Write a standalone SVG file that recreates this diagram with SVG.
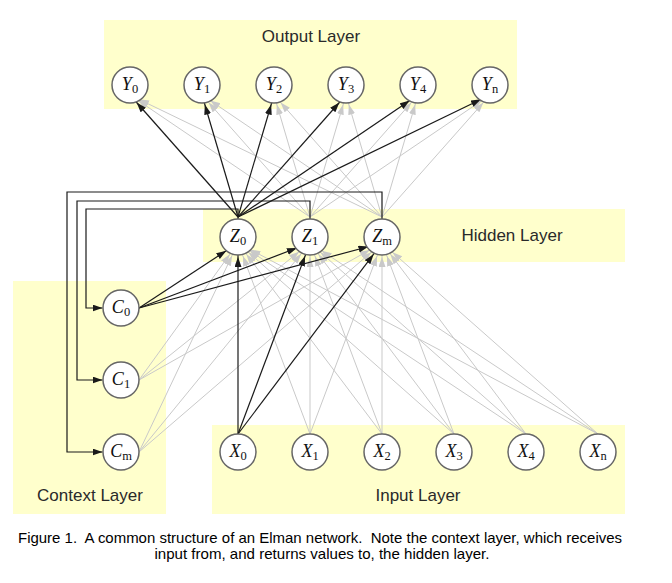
<svg xmlns="http://www.w3.org/2000/svg" width="672" height="583" viewBox="0 0 672 583">
<style>
.layer{fill:#ffffcc;stroke:none}
.lbl{font-family:"Liberation Sans",Arial,sans-serif;font-size:17px;fill:#2a2a2a;text-anchor:middle}
.cap{font-family:"Liberation Sans",Arial,sans-serif;font-size:14.5px;fill:#000;text-anchor:middle;white-space:pre}
.g{stroke:#c9c9c9;stroke-width:1;fill:none}
.b{stroke:#1a1a1a;stroke-width:1.2;fill:none}
.gy{marker-end:url(#gY)}
.by{marker-end:url(#bY)}
.gz{marker-end:url(#gZ)}
.bz{marker-end:url(#bZ)}
.fb{marker-end:url(#bF)}
.node circle{fill:#fff;stroke:#666;stroke-width:1.5}
.node text{font-family:"Liberation Serif","Times New Roman",serif;font-size:18px;fill:#111;text-anchor:middle}
.node .v{font-style:italic}
.node .s{font-size:12.5px}
</style>
<defs>
<marker id="gY" markerUnits="userSpaceOnUse" markerWidth="30" markerHeight="8" refX="20" refY="3.5" orient="auto"><path d="M0,0 L10,3.5 L0,7 z" fill="#c9c9c9"/></marker>
<marker id="bY" markerUnits="userSpaceOnUse" markerWidth="30" markerHeight="8" refX="20" refY="3.5" orient="auto"><path d="M0,0 L10,3.5 L0,7 z" fill="#1a1a1a"/></marker>
<marker id="gZ" markerUnits="userSpaceOnUse" markerWidth="30" markerHeight="8" refX="24" refY="3.5" orient="auto"><path d="M0,0 L10,3.5 L0,7 z" fill="#c9c9c9"/></marker>
<marker id="bZ" markerUnits="userSpaceOnUse" markerWidth="30" markerHeight="8" refX="24" refY="3.5" orient="auto"><path d="M0,0 L10,3.5 L0,7 z" fill="#1a1a1a"/></marker>
<marker id="bF" markerUnits="userSpaceOnUse" markerWidth="12" markerHeight="8" refX="10" refY="3.5" orient="auto"><path d="M0,0 L10,3.5 L0,7 z" fill="#1a1a1a"/></marker>
</defs>

<g id="layers">
<rect class="layer" x="104" y="20" width="413" height="89"/>
<rect class="layer" x="203" y="209" width="422" height="53"/>
<rect class="layer" x="13" y="281" width="153" height="233"/>
<rect class="layer" x="212" y="425" width="413" height="89"/>
<text class="lbl" x="311" y="42">Output Layer</text>
<text class="lbl" x="512" y="241">Hidden Layer</text>
<text class="lbl" x="90" y="501">Context Layer</text>
<text class="lbl" x="418" y="501">Input Layer</text>
</g>

<g id="connectors">
<!-- gray hidden -> output -->
<line class="g gy" x1="310" y1="217" x2="130" y2="95"/>
<line class="g gy" x1="310" y1="217" x2="202" y2="95"/>
<line class="g gy" x1="310" y1="217" x2="274" y2="95"/>
<line class="g gy" x1="310" y1="217" x2="346" y2="95"/>
<line class="g gy" x1="310" y1="217" x2="418" y2="95"/>
<line class="g gy" x1="310" y1="217" x2="490" y2="95"/>
<line class="g gy" x1="382" y1="217" x2="130" y2="95"/>
<line class="g gy" x1="382" y1="217" x2="202" y2="95"/>
<line class="g gy" x1="382" y1="217" x2="274" y2="95"/>
<line class="g gy" x1="382" y1="217" x2="346" y2="95"/>
<line class="g gy" x1="382" y1="217" x2="418" y2="95"/>
<line class="g gy" x1="382" y1="217" x2="490" y2="95"/>
<!-- gray input -> hidden -->
<line class="g gz" x1="310" y1="434" x2="238" y2="243"/>
<line class="g gz" x1="310" y1="434" x2="310" y2="243"/>
<line class="g gz" x1="310" y1="434" x2="382" y2="243"/>
<line class="g gz" x1="382" y1="434" x2="238" y2="243"/>
<line class="g gz" x1="382" y1="434" x2="310" y2="243"/>
<line class="g gz" x1="382" y1="434" x2="382" y2="243"/>
<line class="g gz" x1="454" y1="434" x2="238" y2="243"/>
<line class="g gz" x1="454" y1="434" x2="310" y2="243"/>
<line class="g gz" x1="454" y1="434" x2="382" y2="243"/>
<line class="g gz" x1="526" y1="434" x2="238" y2="243"/>
<line class="g gz" x1="526" y1="434" x2="310" y2="243"/>
<line class="g gz" x1="526" y1="434" x2="382" y2="243"/>
<line class="g gz" x1="598" y1="434" x2="238" y2="243"/>
<line class="g gz" x1="598" y1="434" x2="310" y2="243"/>
<line class="g gz" x1="598" y1="434" x2="382" y2="243"/>
<!-- gray context -> hidden -->
<line class="g gz" x1="139" y1="380" x2="238" y2="243"/>
<line class="g gz" x1="139" y1="380" x2="310" y2="243"/>
<line class="g gz" x1="139" y1="380" x2="382" y2="243"/>
<line class="g gz" x1="139" y1="452" x2="238" y2="243"/>
<line class="g gz" x1="139" y1="452" x2="310" y2="243"/>
<line class="g gz" x1="139" y1="452" x2="382" y2="243"/>
<!-- black Z0 -> output -->
<line class="b by" x1="238" y1="217" x2="130" y2="95"/>
<line class="b by" x1="238" y1="217" x2="202" y2="95"/>
<line class="b by" x1="238" y1="217" x2="274" y2="95"/>
<line class="b by" x1="238" y1="217" x2="346" y2="95"/>
<line class="b by" x1="238" y1="217" x2="418" y2="95"/>
<line class="b by" x1="238" y1="217" x2="490" y2="95"/>
<!-- black X0 -> hidden -->
<line class="b bz" x1="238" y1="434" x2="238" y2="243"/>
<line class="b bz" x1="238" y1="434" x2="310" y2="243"/>
<line class="b bz" x1="238" y1="434" x2="382" y2="243"/>
<!-- black C0 -> hidden -->
<line class="b bz" x1="139" y1="308" x2="238" y2="243"/>
<line class="b bz" x1="139" y1="308" x2="310" y2="243"/>
<line class="b bz" x1="139" y1="308" x2="382" y2="243"/>
<!-- feedback hidden -> context -->
<path class="b fb" d="M238,219 V209 H86 V308 H102.5"/>
<path class="b fb" d="M310,219 V201 H77 V380 H102.5"/>
<path class="b fb" d="M382,219 V192 H67 V452 H102.5"/>
</g>

<g id="Y0" class="node"><circle cx="130" cy="85" r="18"/><text x="130" y="90"><tspan class="v">Y</tspan><tspan class="s" dy="3">0</tspan></text></g>
<g id="Y1" class="node"><circle cx="202" cy="85" r="18"/><text x="202" y="90"><tspan class="v">Y</tspan><tspan class="s" dy="3">1</tspan></text></g>
<g id="Y2" class="node"><circle cx="274" cy="85" r="18"/><text x="274" y="90"><tspan class="v">Y</tspan><tspan class="s" dy="3">2</tspan></text></g>
<g id="Y3" class="node"><circle cx="346" cy="85" r="18"/><text x="346" y="90"><tspan class="v">Y</tspan><tspan class="s" dy="3">3</tspan></text></g>
<g id="Y4" class="node"><circle cx="418" cy="85" r="18"/><text x="418" y="90"><tspan class="v">Y</tspan><tspan class="s" dy="3">4</tspan></text></g>
<g id="Yn" class="node"><circle cx="490" cy="85" r="18"/><text x="490" y="90"><tspan class="v">Y</tspan><tspan class="s" dy="3">n</tspan></text></g>

<g id="Z0" class="node"><circle cx="238" cy="237" r="18"/><text x="238" y="242"><tspan class="v">Z</tspan><tspan class="s" dy="3">0</tspan></text></g>
<g id="Z1" class="node"><circle cx="310" cy="237" r="18"/><text x="310" y="242"><tspan class="v">Z</tspan><tspan class="s" dy="3">1</tspan></text></g>
<g id="Zm" class="node"><circle cx="382" cy="237" r="18"/><text x="382" y="242"><tspan class="v">Z</tspan><tspan class="s" dy="3">m</tspan></text></g>

<g id="C0" class="node"><circle cx="121" cy="308" r="18"/><text x="121" y="313"><tspan class="v">C</tspan><tspan class="s" dy="3">0</tspan></text></g>
<g id="C1" class="node"><circle cx="121" cy="380" r="18"/><text x="121" y="385"><tspan class="v">C</tspan><tspan class="s" dy="3">1</tspan></text></g>
<g id="Cm" class="node"><circle cx="121" cy="452" r="18"/><text x="121" y="457"><tspan class="v">C</tspan><tspan class="s" dy="3">m</tspan></text></g>

<g id="X0" class="node"><circle cx="238" cy="452" r="18"/><text x="238" y="457"><tspan class="v">X</tspan><tspan class="s" dy="3">0</tspan></text></g>
<g id="X1" class="node"><circle cx="310" cy="452" r="18"/><text x="310" y="457"><tspan class="v">X</tspan><tspan class="s" dy="3">1</tspan></text></g>
<g id="X2" class="node"><circle cx="382" cy="452" r="18"/><text x="382" y="457"><tspan class="v">X</tspan><tspan class="s" dy="3">2</tspan></text></g>
<g id="X3" class="node"><circle cx="454" cy="452" r="18"/><text x="454" y="457"><tspan class="v">X</tspan><tspan class="s" dy="3">3</tspan></text></g>
<g id="X4" class="node"><circle cx="526" cy="452" r="18"/><text x="526" y="457"><tspan class="v">X</tspan><tspan class="s" dy="3">4</tspan></text></g>
<g id="Xn" class="node"><circle cx="598" cy="452" r="18"/><text x="598" y="457"><tspan class="v">X</tspan><tspan class="s" dy="3">n</tspan></text></g>

<g id="caption">
<text class="cap" x="320" y="543" xml:space="preserve" textLength="604" lengthAdjust="spacingAndGlyphs">Figure 1.  A common structure of an Elman network.  Note the context layer, which receives</text>
<text class="cap" x="322" y="559" textLength="335" lengthAdjust="spacingAndGlyphs">input from, and returns values to, the hidden layer.</text>
</g>
</svg>
